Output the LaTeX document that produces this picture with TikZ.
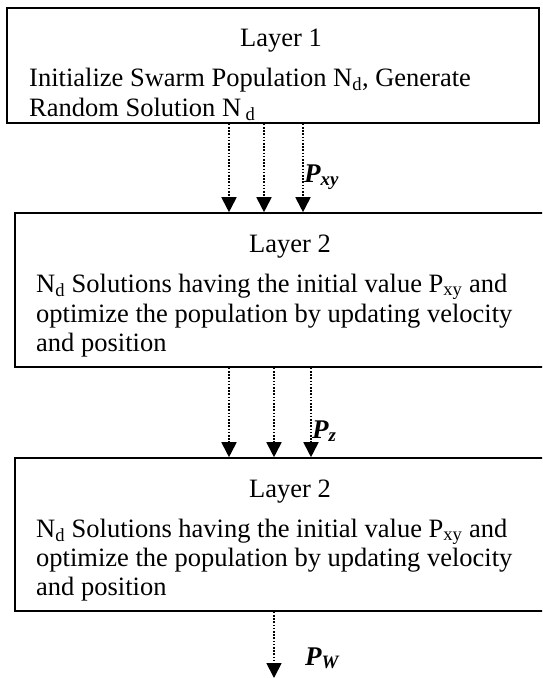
\documentclass[tikz,border=0pt]{standalone}
\usepackage{fontspec}
\setmainfont{Liberation Serif}
\usetikzlibrary{arrows.meta}
\begin{document}
\begin{tikzpicture}[x=1pt,y=-1pt,
  box/.style={draw, line width=1.6pt, inner sep=0pt},
  txt/.style={anchor=base west, inner sep=0pt, font=\fontsize{26.5}{30}\selectfont},
  ttl/.style={txt, anchor=base},
  lbl/.style={anchor=base west, inner sep=0pt, font=\fontsize{27}{30}\selectfont\bfseries\itshape},
  arr/.style={line width=1.8pt, dash pattern=on 1.6pt off 1.6pt, -{Triangle[width=15pt,length=15pt]}}]
\useasboundingbox (0,0) rectangle (542,678);
\clip (0,0) rectangle (542,678);
% boxes
\node[box, minimum width=532pt, minimum height=115pt] (b1) at (273,65.5) {};
\node[box, minimum width=545pt, minimum height=154pt] (b2) at (287.5,290) {};
\node[box, minimum width=545pt, minimum height=153pt] (b3) at (287.5,534.5) {};
% texts
\node[ttl] (t1a) at (281,46) {Layer 1};
\node[txt] (t1b) at (29,86) {Initialize Swarm Population N\textsubscript{d}, Generate};
\node[txt] (t1c) at (29,116) {Random Solution N\,\textsubscript{d}};
\node[ttl] (t2a) at (290,252) {Layer 2};
\node[txt] (t2b) at (36,292) {N\textsubscript{d} Solutions having the initial value P\textsubscript{xy} and};
\node[txt] (t2c) at (36,322) {optimize the population by updating velocity};
\node[txt] (t2d) at (36,351) {and position};
\node[ttl] (t3a) at (290,497) {Layer 2};
\node[txt] (t3b) at (36,537) {N\textsubscript{d} Solutions having the initial value P\textsubscript{xy} and};
\node[txt] (t3c) at (36,566) {optimize the population by updating velocity};
\node[txt] (t3d) at (36,595) {and position};
% arrow columns
\coordinate (xa) at (229,0);
\coordinate (xb) at (264,0);
\coordinate (xc) at (303,0);
\coordinate (xd) at (229,0);
\coordinate (xe) at (274,0);
\coordinate (xf) at (311,0);
\coordinate (bot) at (274,678);
\draw[arr] (xa |- b1.south) -- (xa |- b2.north);
\draw[arr] (xb |- b1.south) -- (xb |- b2.north);
\draw[arr] (xc |- b1.south) -- (xc |- b2.north);
\draw[arr] (xd |- b2.south) -- (xd |- b3.north);
\draw[arr] (xe |- b2.south) -- (xe |- b3.north);
\draw[arr] (xf |- b2.south) -- (xf |- b3.north);
\draw[arr] (b3.south -| bot) -- (bot);
% labels
\node[lbl] (pxy) at (304,182) {P\textsubscript{xy}};
\node[lbl] (pz) at (312,438) {P\textsubscript{z}};
\node[lbl] (pw) at (305,665) {P\textsubscript{W}};
\end{tikzpicture}
\end{document}
